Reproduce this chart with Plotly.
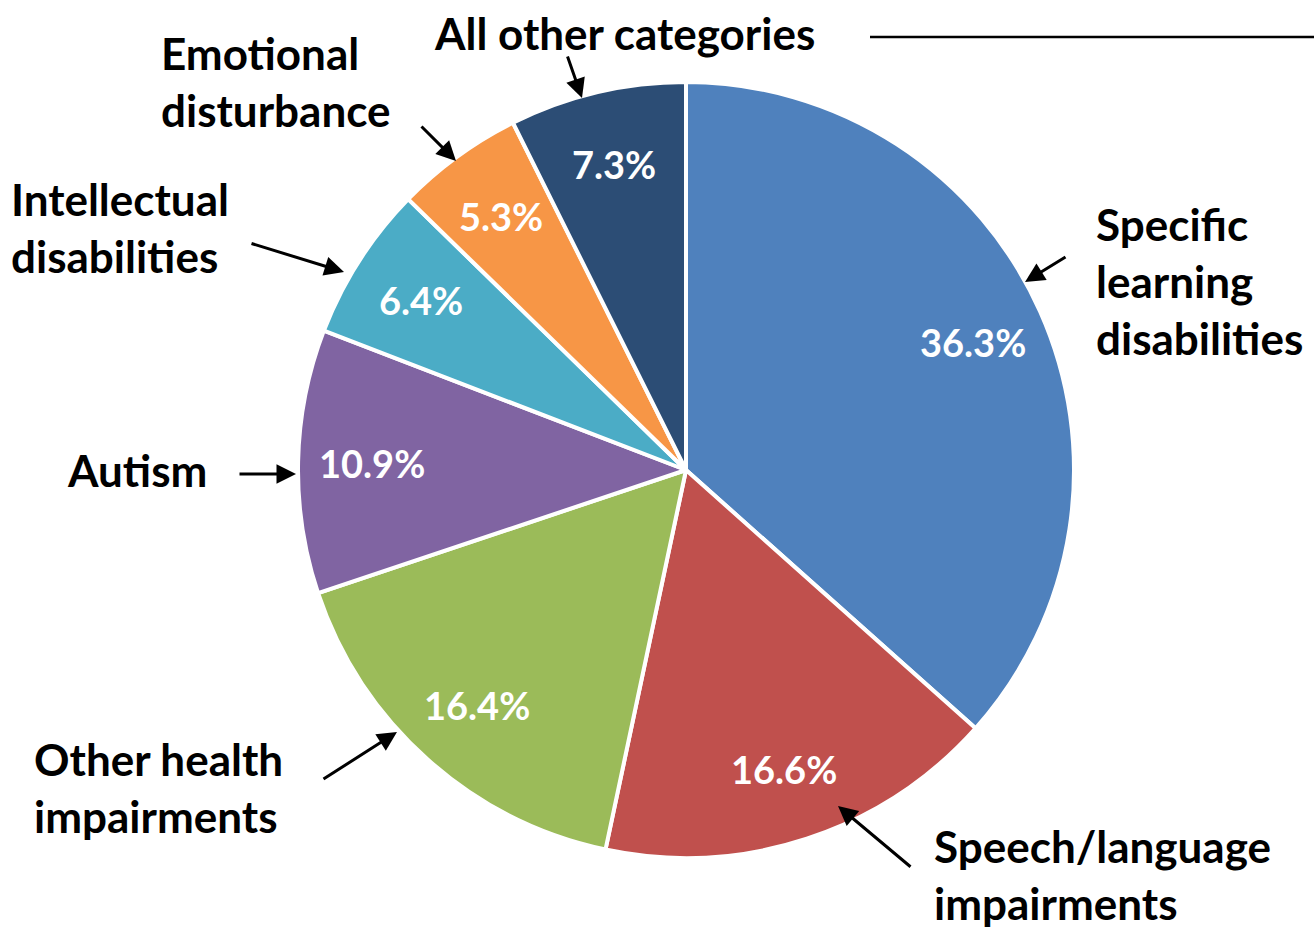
import math
import plotly.graph_objects as go

categories = ["Specific learning disabilities", "Speech/language impairments",
              "Other health impairments", "Autism", "Intellectual disabilities",
              "Emotional disturbance", "All other categories"]
shares = [36.3, 16.6, 16.4, 10.9, 6.4, 5.3, 7.3]
colors = ["#4F81BD", "#C0504D", "#9BBB59", "#8064A2", "#4BACC6", "#F79646", "#2C4D75"]

W, H = 1314, 928
cx, cy, R = 686, 470, 388
FONT = "Lato"

fig = go.Figure(go.Pie(
    labels=categories, values=shares, sort=False, direction="clockwise", rotation=0,
    marker=dict(colors=colors, line=dict(color="white", width=4)),
    textinfo="none", hoverinfo="label+percent", showlegend=False,
    domain=dict(x=[(cx - R) / W, (cx + R) / W], y=[1 - (cy + R) / H, 1 - (cy - R) / H]),
))

# percentage labels near the outer part of each slice, like Excel's layout
total = sum(shares)
cum = 0
for v in shares:
    mid = (cum + v / 2) / total * 2 * math.pi
    cum += v
    fig.add_annotation(x=cx + 0.81 * R * math.sin(mid), y=cy - 0.81 * R * math.cos(mid),
                       text=f"{v:.1f}%", showarrow=False, xref="x", yref="y",
                       font=dict(family=FONT, size=38, color="white", weight="bold"))

# category call-outs: (text, x, y, anchor, arrow tail, arrow head)
callouts = [
    ("Specific<br>learning<br>disabilities", 1095, 281, "left", (1067, 256), (1025, 282)),
    ("Speech/language<br>impairments", 933, 874, "left", (912, 868), (838, 806)),
    ("Other health<br>impairments", 33, 787, "left", (322, 780), (397, 732)),
    ("Autism", 66, 470, "left", (238, 474), (296, 474)),
    ("Intellectual<br>disabilities", 10, 227, "left", (250, 243), (344, 272)),
    ("Emotional<br>disturbance", 160, 81, "left", (420, 125), (456, 161)),
    ("All other categories", 624, 33, "center", (567, 55), (582, 98)),
]
for txt, tx, ty, anchor, tail, head in callouts:
    fig.add_annotation(x=tx, y=ty, text=txt, showarrow=False, xref="x", yref="y",
                       xanchor=anchor, align="left", borderpad=0,
                       font=dict(family=FONT, size=44, color="black", weight="bold"))
    fig.add_annotation(x=head[0], y=head[1], ax=tail[0], ay=tail[1], text="",
                       xref="x", yref="y", axref="x", ayref="y", showarrow=True,
                       arrowhead=2, arrowsize=1.3, arrowwidth=3, arrowcolor="black")

fig.add_shape(type="line", x0=870, x1=W, y0=37, y1=37, xref="x", yref="y",
              line=dict(color="black", width=2.5))

fig.update_layout(
    width=W, height=H, margin=dict(l=0, r=0, t=0, b=0),
    paper_bgcolor="white", plot_bgcolor="rgba(0,0,0,0)",
    xaxis=dict(range=[0, W], visible=False, fixedrange=True),
    yaxis=dict(range=[H, 0], visible=False, fixedrange=True),
)

# drop the browser's default body margin so the figure fills the window exactly
fig.write_html("out.html", config={"displayModeBar": False},
               post_script="document.body.style.margin='0';document.body.style.overflow='hidden';")
